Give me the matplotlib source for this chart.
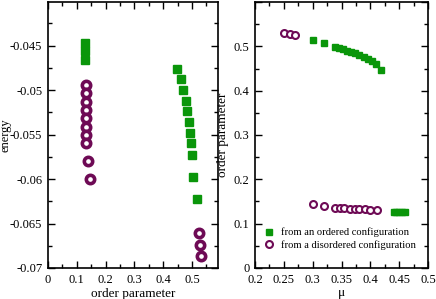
import matplotlib.pyplot as plt
from matplotlib.ticker import MultipleLocator

# left panel: energy vs order parameter
ord_left_x = [0.128, 0.128, 0.128]
ord_left_e = [-0.0447, -0.0456, -0.0466]
ord_right_x = [0.448, 0.460, 0.470, 0.478, 0.482, 0.488, 0.493, 0.497, 0.500, 0.502, 0.517]
ord_right_e = [-0.0476, -0.0487, -0.0500, -0.0512, -0.0524, -0.0536, -0.0548,
               -0.0560, -0.0573, -0.0598, -0.0623]
dis_left_x = [0.132, 0.132, 0.132, 0.132, 0.132, 0.132, 0.132, 0.132, 0.140, 0.146]
dis_left_e = [-0.0494, -0.0503, -0.0513, -0.0522, -0.0531, -0.0541, -0.0551,
              -0.0560, -0.0580, -0.0600]
dis_right_x = [0.525, 0.526, 0.532]
dis_right_e = [-0.0661, -0.0674, -0.0686]

# right panel: order parameter vs mu
mu_ord = [0.30, 0.32, 0.338, 0.345, 0.352, 0.359, 0.366, 0.373, 0.380, 0.388,
          0.395, 0.402, 0.410, 0.419, 0.44, 0.445, 0.45, 0.455, 0.46]
op_ord = [0.514, 0.507, 0.499, 0.497, 0.494, 0.490, 0.488, 0.485, 0.480, 0.476,
          0.472, 0.467, 0.461, 0.447, 0.127, 0.127, 0.127, 0.127, 0.127]
mu_dis = [0.25, 0.26, 0.27, 0.30, 0.32, 0.338, 0.347, 0.355, 0.364, 0.373,
          0.381, 0.390, 0.399, 0.411]
op_dis = [0.531, 0.527, 0.525, 0.144, 0.140, 0.136, 0.136, 0.135, 0.134, 0.133,
          0.133, 0.132, 0.131, 0.130]

GREEN = "#0a960a"
PURPLE = "#6e0a55"

plt.rcParams["font.family"] = "Liberation Serif"
plt.rcParams["font.size"] = 9.5

fig = plt.figure(figsize=(4.36, 2.99), dpi=100)
ax1 = fig.add_axes([0.110, 0.1037, 0.390, 0.8896])
ax2 = fig.add_axes([0.585, 0.1037, 0.397, 0.8896])

sq = dict(marker="s", linestyle="none", color=GREEN, markersize=5.5)
ci = dict(marker="o", linestyle="none", markerfacecolor="white",
          markeredgecolor=PURPLE, markersize=6, markeredgewidth=2.6)

ax1.plot(ord_left_x, ord_left_e, **sq)
ax1.plot(ord_right_x, ord_right_e, **sq)
ax1.plot(dis_left_x, dis_left_e, **ci)
ax1.plot(dis_right_x, dis_right_e, **ci)
ax1.set_xlim(0, 0.59)
ax1.set_ylim(-0.07, -0.0401)
ax1.xaxis.set_minor_locator(MultipleLocator(0.05))
ax1.yaxis.set_minor_locator(MultipleLocator(0.0025))
ax1.set_xticks([0, 0.1, 0.2, 0.3, 0.4, 0.5])
ax1.set_xticklabels(["0", "0.1", "0.2", "0.3", "0.4", "0.5"])
ax1.set_yticks([-0.07, -0.065, -0.06, -0.055, -0.05, -0.045])
ax1.set_yticklabels(["-0.07", "-0.065", "-0.06", "-0.055", "-0.05", "-0.045"])
ax1.set_xlabel("order parameter", labelpad=2)
ax1.set_ylabel("energy", fontsize=9)
ax1.yaxis.set_label_coords(-0.215, 0.5)

sq2 = dict(sq, markersize=5)
ci2 = dict(ci, markersize=5, markeredgewidth=1.5)
ax2.plot(mu_ord, op_ord, label="from an ordered configuration", **sq2)
ax2.plot(mu_dis, op_dis, label="from a disordered configuration", **ci2)
ax2.set_xlim(0.2, 0.5)
ax2.set_ylim(0, 0.6)
ax2.xaxis.set_minor_locator(MultipleLocator(0.025))
ax2.yaxis.set_minor_locator(MultipleLocator(0.05))
ax2.set_yticks([0, 0.1, 0.2, 0.3, 0.4, 0.5, 0.6])
ax2.set_yticklabels(["0", "0.1", "0.2", "0.3", "0.4", "0.5", ""])
ax2.set_xticks([0.2, 0.25, 0.3, 0.35, 0.4, 0.45, 0.5])
ax2.set_xticklabels(["0.2", "0.25", "0.3", "0.35", "0.4", "0.45", "0.5"])
ax2.set_xlabel("\u03bc", labelpad=1)
ax2.set_ylabel("order parameter")
ax2.yaxis.set_label_coords(-0.15, 0.5)
ax2.legend(loc="upper left", bbox_to_anchor=(0.0, 0.175), frameon=False,
           handletextpad=0.5, labelspacing=0.25, borderaxespad=0.2,
           handlelength=1.4, fontsize=7.6)

for ax in (ax1, ax2):
    ax.tick_params(which="both", direction="in", top=True, right=True, pad=4,
                   labelsize=9)
    ax.tick_params(which="major", length=5, width=1)
    ax.tick_params(which="minor", length=3, width=1)
    for s in ax.spines.values():
        s.set_linewidth(1.2)

fig.savefig("out.png", dpi=100)
